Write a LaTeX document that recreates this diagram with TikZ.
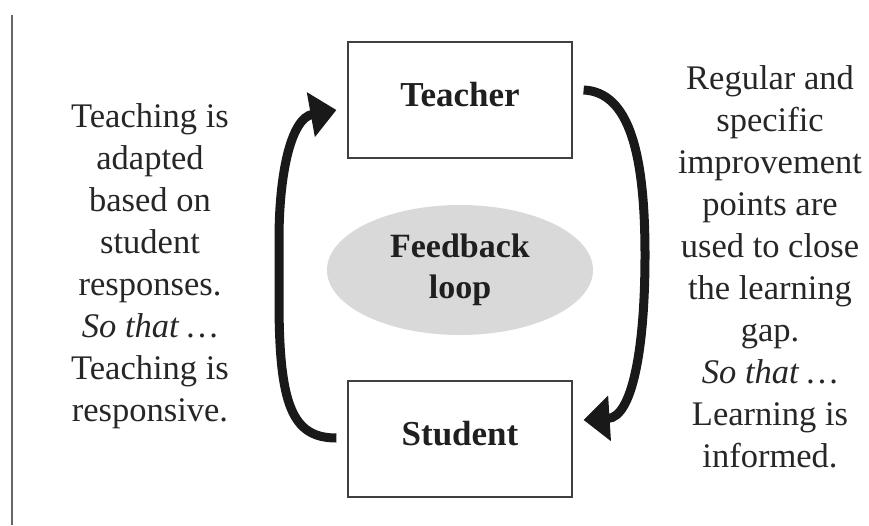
\documentclass[tikz,border=0pt]{standalone}
\usepackage{fontspec}
\setmainfont{Liberation Serif}
\usetikzlibrary{arrows.meta,shapes.geometric,calc}
\begin{document}
\begin{tikzpicture}[x=1pt,y=-1pt,
  box/.style={draw=black!75, line width=1.2pt, minimum width=224pt, minimum height=116pt, inner sep=0pt,
    font=\fontsize{35}{40}\selectfont\bfseries, text=black!88, text height=23pt, text depth=11pt},
  loopell/.style={ellipse, fill=black!15, minimum width=266pt, minimum height=130pt, inner sep=0pt,
    font=\fontsize{34}{41}\selectfont\bfseries, text=black!88, align=center},
  side/.style={align=center, font=\fontsize{34.5}{42}\selectfont, inner sep=0pt, text=black!85},
  looparrow/.style={line width=9pt, black!90, -{Triangle[length=26pt,width=44pt]}}
]
\useasboundingbox (0,0) rectangle (869,525);
\draw[black!60, line width=1.3pt] (12,15) -- (12,525);

\node[box] (teacher) at (460,100) {Teacher};
\node[box] (student) at (460,439) {Student};
\node[loopell] (fb) at (460,270) {Feedback\\loop};

\node[side] (lefttext) at (150,266) {Teaching is\\adapted\\based on\\student\\responses.\\\textit{So that \dots}\\Teaching is\\responsive.};
\node[side] (righttext) at (770,267) {Regular and\\specific\\improvement\\points are\\used to close\\the learning\\gap.\\\textit{So that \dots}\\Learning is\\informed.};

\coordinate (ls) at ($(student.west)+(-11,-1)$);
\coordinate (le) at ($(teacher.west)+(-11,10)$);
\coordinate (rs) at ($(teacher.east)+(11,-10)$);
\coordinate (re) at ($(student.east)+(11,-19)$);

\draw[looparrow] (ls) .. controls (292,438) and (279,405) .. (279,300) -- (279,240) .. controls (279,170) and (292,118) .. (le);
\draw[looparrow] (rs) .. controls (628,92) and (645,150) .. (645,255) .. controls (645,350) and (632,417) .. (re);
\end{tikzpicture}
\end{document}
